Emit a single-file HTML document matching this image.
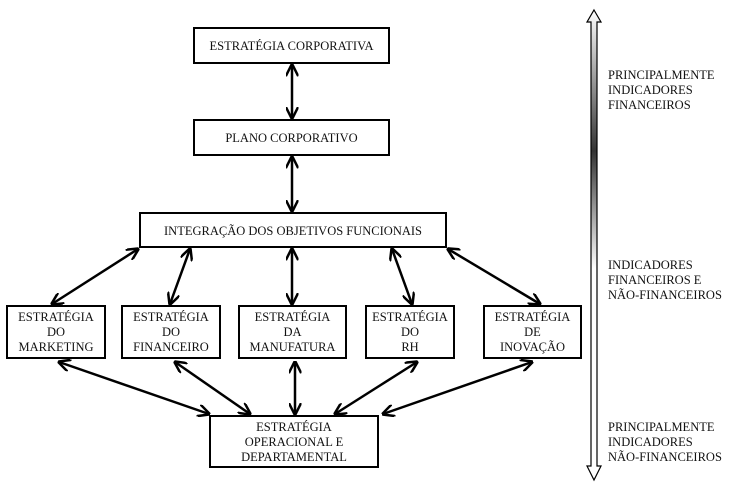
<!DOCTYPE html>
<html><head><meta charset="utf-8"><style>
html,body{margin:0;padding:0;background:#fff;}
svg{display:block}
text{font-family:"Liberation Serif",serif;font-size:12.5px;fill:#111;}
</style></head><body>
<svg width="729" height="493" viewBox="0 0 729 493" xmlns="http://www.w3.org/2000/svg">
<defs>
<marker id="a" viewBox="0 0 10 10" refX="9" refY="5" markerWidth="5" markerHeight="5" orient="auto-start-reverse">
<path d="M0,0 L10,5 L0,10" fill="none" stroke="#000" stroke-width="2"/>
</marker>
<linearGradient id="g" x1="0" y1="0" x2="0" y2="1">
<stop offset="0" stop-color="#fff"/>
<stop offset="0.3" stop-color="#333"/>
<stop offset="0.55" stop-color="#fff"/>
<stop offset="1" stop-color="#fff"/>
</linearGradient>
</defs>
<g fill="#fff" stroke="#000" stroke-width="2">
<rect x="194" y="28" width="195" height="35"/>
<rect x="194" y="120" width="195" height="35"/>
<rect x="140" y="213" width="306" height="34"/>
<rect x="7" y="306" width="98" height="52"/>
<rect x="122" y="306" width="98" height="52"/>
<rect x="239" y="306" width="107" height="52"/>
<rect x="366" y="306" width="88" height="52"/>
<rect x="484" y="306" width="97" height="52"/>
<rect x="210" y="416" width="168" height="51"/>
</g>
<g stroke="#000" stroke-width="2.5" fill="none" marker-start="url(#a)" marker-end="url(#a)">
<line x1="292" y1="65" x2="292" y2="118"/>
<line x1="292" y1="157" x2="292" y2="211"/>
<line x1="138" y1="249" x2="52" y2="304"/>
<line x1="190" y1="249" x2="170" y2="304"/>
<line x1="292" y1="249" x2="292" y2="304"/>
<line x1="392" y1="249" x2="412" y2="304"/>
<line x1="448" y1="249" x2="540" y2="304"/>
<line x1="59" y1="362" x2="209" y2="414"/>
<line x1="175" y1="362" x2="250" y2="414"/>
<line x1="295" y1="362" x2="295" y2="414"/>
<line x1="417" y1="362" x2="335" y2="414"/>
<line x1="532" y1="362" x2="383" y2="414"/>
</g>
<path d="M594,10 L601,22 L597,22 L597,466 L601,466 L594,480 L587,466 L591,466 L591,22 L587,22 Z" fill="url(#g)" stroke="#000" stroke-width="1.2"/>
<g text-anchor="middle">
<text x="291.5" y="50">ESTRATÉGIA CORPORATIVA</text>
<text x="291.5" y="142">PLANO CORPORATIVO</text>
<text x="293" y="235">INTEGRAÇÃO DOS OBJETIVOS FUNCIONAIS</text>
<text x="56" y="321">ESTRATÉGIA</text><text x="56" y="336">DO</text><text x="56" y="351">MARKETING</text>
<text x="171" y="321">ESTRATÉGIA</text><text x="171" y="336">DO</text><text x="171" y="351">FINANCEIRO</text>
<text x="292.5" y="321">ESTRATÉGIA</text><text x="292.5" y="336">DA</text><text x="292.5" y="351">MANUFATURA</text>
<text x="410" y="321">ESTRATÉGIA</text><text x="410" y="336">DO</text><text x="410" y="351">RH</text>
<text x="532.5" y="321">ESTRATÉGIA</text><text x="532.5" y="336">DE</text><text x="532.5" y="351">INOVAÇÃO</text>
<text x="294" y="431">ESTRATÉGIA</text><text x="294" y="446">OPERACIONAL E</text><text x="294" y="461">DEPARTAMENTAL</text>
</g>
<text x="608" y="79">PRINCIPALMENTE</text>
<text x="608" y="94">INDICADORES</text>
<text x="608" y="109">FINANCEIROS</text>
<text x="608" y="269">INDICADORES</text>
<text x="608" y="284">FINANCEIROS E</text>
<text x="608" y="299">NÃO-FINANCEIROS</text>
<text x="608" y="431">PRINCIPALMENTE</text>
<text x="608" y="446">INDICADORES</text>
<text x="608" y="461">NÃO-FINANCEIROS</text>
</svg>
</body></html>
